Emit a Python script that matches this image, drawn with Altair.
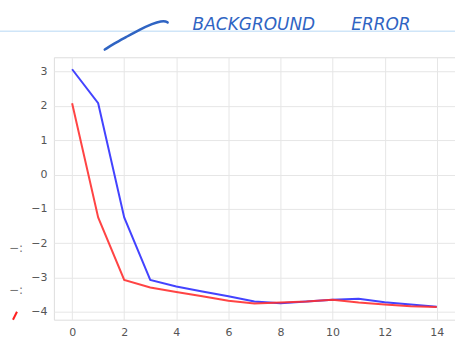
import altair as alt
import pandas as pd

# Iterations and the two error curves
steps = list(range(15))
blue_vals = [3.07, 2.08, -1.25, -3.07, -3.26, -3.41, -3.55, -3.70, -3.75, -3.70,
             -3.65, -3.62, -3.72, -3.79, -3.85]
red_vals = [2.08, -1.25, -3.07, -3.29, -3.42, -3.55, -3.68, -3.76, -3.73, -3.70,
            -3.65, -3.73, -3.79, -3.84, -3.86]
series_names = ["blue", "red"]
series_colors = ["#2f2fff", "#ff3030"]

x_ticks = list(range(0, 15, 2))
y_ticks = list(range(-4, 4))

# Handwritten note above the plot (pixel positions relative to the plot origin)
note_words = ["BACKGROUND", "ERROR"]
note_x = [139, 298]
note_y = -27
pen_x = [51, 60, 72, 86, 99, 107.7, 112.5, 114.0]
pen_y = [-7.7, -13.5, -20.0, -27.7, -33.7, -36.3, -36.0, -34.8]
ink = "#2f64c3"

df = pd.DataFrame({
    "step": steps * 2,
    "value": blue_vals + red_vals,
    "series": [series_names[0]] * len(steps) + [series_names[1]] * len(steps),
})

x_scale = alt.Scale(domain=[-0.7, 14.7], nice=False, zero=False)
y_scale = alt.Scale(domain=[-4.23, 3.42], nice=False, zero=False)

lines = alt.Chart(df).mark_line(strokeWidth=2, opacity=0.9).encode(
    x=alt.X("step:Q", scale=x_scale, title=None,
            axis=alt.Axis(values=x_ticks, format="d")),
    y=alt.Y("value:Q", scale=y_scale, title=None,
            axis=alt.Axis(values=y_ticks, format="d")),
    color=alt.Color("series:N", legend=None,
                    scale=alt.Scale(domain=series_names, range=series_colors)),
    order=alt.Order("step:Q"),
)

one = pd.DataFrame({"k": [0]})

top_rule = alt.Chart(one).mark_rule(color="#cfe5f8", strokeWidth=1.5).encode(
    x=alt.value(-54), x2=alt.value(402), y=alt.value(-26)
)

words = pd.DataFrame({"word": note_words, "px": note_x})
note = alt.Chart(words).mark_text(
    align="left", baseline="alphabetic", font="DejaVu Sans", fontSize=17,
    fontStyle="italic", color=ink
).encode(
    x=alt.X("px:Q", scale=None, axis=None),
    y=alt.value(note_y),
    text="word:N",
)

pen = alt.Chart(pd.DataFrame({"px": pen_x, "py": pen_y, "i": range(len(pen_x))})).mark_line(
    color=ink, strokeWidth=2.5, strokeCap="round", interpolate="basis"
).encode(
    x=alt.X("px:Q", scale=None, axis=None),
    y=alt.Y("py:Q", scale=None, axis=None),
    order="i:Q",
)

# Clipped fragments at the far left edge
frag = alt.Chart(pd.DataFrame({"t": ["−:", "−:"], "py": [191, 233]})).mark_text(
    align="left", baseline="middle", font="DejaVu Sans", fontSize=12, color="#777777"
).encode(
    x=alt.value(-45),
    y=alt.Y("py:Q", scale=None, axis=None),
    text="t:N",
)
red_tick = alt.Chart(one).mark_rule(color="#ff2020", strokeWidth=2).encode(
    x=alt.value(-41), x2=alt.value(-37), y=alt.value(263), y2=alt.value(255)
)

chart = alt.layer(lines, top_rule, note, pen, frag, red_tick).resolve_scale(
    x="independent", y="independent"
).properties(
    width=402,
    height=263,
    autosize=alt.AutoSizeParams(type="none"),
    padding={"left": 54, "top": 57, "right": 0, "bottom": 28},
    background="white",
).configure_view(
    stroke="#dddddd", strokeWidth=1
).configure_axis(
    grid=True, gridColor="#e6e6e6", gridWidth=1, domain=False, ticks=False,
    labelColor="#555555", labelFont="DejaVu Sans", labelFontSize=11, labelPadding=7,
)

chart.save("out.html", embed_options={"renderer": "svg", "actions": False})
